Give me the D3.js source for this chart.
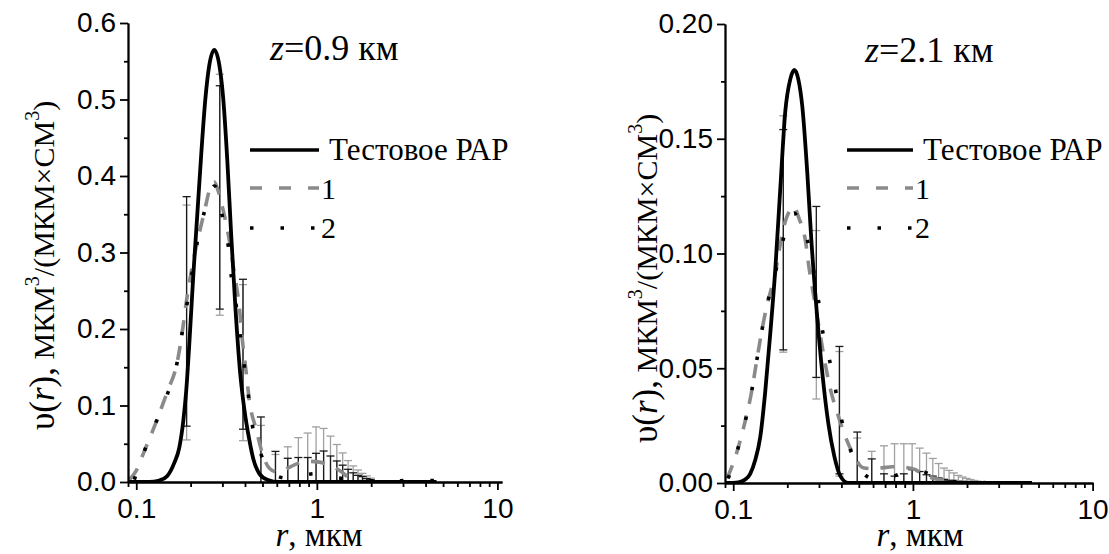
<!DOCTYPE html>
<html>
<head>
<meta charset="utf-8">
<script src="https://cdn.jsdelivr.net/npm/d3@7"></script>
<style>
  body { margin: 0; background: #fff; }
</style>
</head>
<body>
<svg id="chart" width="1109" height="554"></svg>
<script>
// ---- panel A: z = 0.9 km ----
var rTestA = [0.09, 0.118, 0.134, 0.1485, 0.1624, 0.1731, 0.1822, 0.1892, 0.1966, 0.2069, 0.2178, 0.2292, 0.2412, 0.2538, 0.2705, 0.2884, 0.3034, 0.3193, 0.336, 0.3536, 0.377, 0.3967, 0.4227, 0.4449, 0.4801, 0.5318, 0.6197, 4.6];
var vTestA = [0, 0, 0.002, 0.008, 0.025, 0.045, 0.08, 0.12, 0.18, 0.27, 0.35, 0.43, 0.5, 0.545, 0.565, 0.545, 0.5, 0.42, 0.32, 0.23, 0.14, 0.095, 0.055, 0.03, 0.011, 0.003, 0, 0];

var rOneA = [0.0915, 0.1, 0.1107, 0.1291, 0.1485, 0.1687, 0.1798, 0.1892, 0.2017, 0.2178, 0.2381, 0.257, 0.2705, 0.2848, 0.2996, 0.3275, 0.3492, 0.3721, 0.3867, 0.4068, 0.4227, 0.4622, 0.4926, 0.5457, 0.6042, 0.6866, 0.7798, 0.9087, 1.0325, 1.173, 1.367, 1.514, 1.676, 1.954, 3.7];
var vOneA = [0.003, 0.015, 0.04, 0.079, 0.118, 0.157, 0.196, 0.235, 0.275, 0.314, 0.353, 0.385, 0.392, 0.38, 0.36, 0.316, 0.273, 0.229, 0.186, 0.142, 0.107, 0.068, 0.042, 0.018, 0.013, 0.018, 0.024, 0.027, 0.026, 0.022, 0.0135, 0.005, 0.001, 0, 0];

var rTwoA = [0.0975, 0.1107, 0.1291, 0.1504, 0.1687, 0.1798, 0.1917, 0.2043, 0.2178, 0.2381, 0.257, 0.2705, 0.2848, 0.2996, 0.3234, 0.336, 0.3581, 0.377, 0.3967, 0.4173, 0.4393, 0.4926, 0.5597, 0.6776, 0.8, 0.994, 1.203, 1.457, 1.833, 2.522, 3.132, 3.7, 4.477, 5.42];
var vTwoA = [0.003, 0.04, 0.079, 0.118, 0.157, 0.196, 0.235, 0.275, 0.314, 0.353, 0.378, 0.387, 0.378, 0.347, 0.308, 0.269, 0.23, 0.191, 0.152, 0.114, 0.0745, 0.035, 0.012, 0.005, 0.008, 0.011, 0.007, 0.004, 0.002, 0.001, 0.002, 0.001, 0.002, 0];

var rBarsA = [0.19, 0.29, 0.39, 0.49, 0.59, 0.69, 0.79, 0.89, 0.99, 1.09, 1.19, 1.29, 1.39, 1.49, 1.59, 1.69, 1.79, 1.89, 1.99];
var oneHiA = [0.362, 0.533, 0.258, 0.074, 0.036, 0.046, 0.058, 0.064, 0.072, 0.07, 0.06, 0.049, 0.038, 0.028, 0.021, 0.0157, 0.0113, 0.008, 0.005];
var oneLoA = [0.055, 0.218, 0.054, 0, 0, 0, 0, 0, 0, 0, 0, 0, 0, 0, 0, 0, 0, 0, 0];
var twoHiA = [0.373, 0.518, 0.265, 0.085, 0.04, 0.031, 0.032, 0.032, 0.0375, 0.0405, 0.034, 0.0275, 0.022, 0.0166, 0.012, 0.0087, 0.007, 0.0044, 0.003];
var twoLoA = [0.073, 0.226, 0.069, 0, 0, 0, 0, 0, 0, 0, 0, 0, 0, 0, 0, 0, 0, 0, 0];

// ---- panel B: z = 2.1 km ----
var rTestB = [0.09, 0.1066, 0.1166, 0.1243, 0.1326, 0.1414, 0.1508, 0.1607, 0.1714, 0.1827, 0.1949, 0.2078, 0.2187, 0.2302, 0.2424, 0.2584, 0.272, 0.29, 0.3132, 0.3382, 0.3653, 0.3947, 0.4372, 4.6];
var vTestB = [0, 0.0003, 0.0015, 0.004, 0.01, 0.02, 0.04, 0.065, 0.093, 0.128, 0.162, 0.176, 0.18, 0.176, 0.164, 0.135, 0.106, 0.077, 0.048, 0.026, 0.0116, 0.003, 0, 0];

var rOneB = [0.0926, 0.1053, 0.1166, 0.126, 0.1343, 0.1432, 0.1547, 0.1714, 0.1827, 0.1949, 0.2078, 0.2159, 0.2332, 0.2518, 0.2651, 0.2827, 0.3014, 0.3214, 0.3471, 0.3797, 0.4207, 0.4722, 0.5233, 0.595, 0.6764, 0.7689, 0.9083, 1.0325, 1.1294, 1.284, 1.4597, 1.8392, 2.703, 4.6];
var vOneB = [0.002, 0.014, 0.027, 0.039, 0.052, 0.065, 0.078, 0.0915, 0.104, 0.114, 0.119, 0.1205, 0.115, 0.106, 0.093, 0.08, 0.067, 0.054, 0.041, 0.0305, 0.0203, 0.0116, 0.0068, 0.0062, 0.0066, 0.0071, 0.0068, 0.0058, 0.004, 0.0022, 0.0012, 0.0005, 0, 0];

var rTwoB = [0.0938, 0.1053, 0.1166, 0.126, 0.1343, 0.1432, 0.1547, 0.1714, 0.1875, 0.2025, 0.2187, 0.2362, 0.2584, 0.2791, 0.2975, 0.3132, 0.3426, 0.37, 0.3997, 0.4485, 0.5099, 0.595, 0.7027, 0.8518, 0.9936, 1.1294, 1.284, 1.518, 1.8392, 3.494, 4.6];
var vTwoB = [0.002, 0.014, 0.027, 0.039, 0.052, 0.065, 0.078, 0.0915, 0.1045, 0.114, 0.1176, 0.113, 0.106, 0.093, 0.08, 0.067, 0.054, 0.041, 0.028, 0.0145, 0.006, 0.002, 0.002, 0.004, 0.005, 0.005, 0.003, 0.001, 0.0005, 0, 0];

var rBarsB = [0.19, 0.29, 0.39, 0.49, 0.59, 0.69, 0.79, 0.89, 0.99, 1.09, 1.19, 1.29, 1.39, 1.49, 1.59, 1.69, 1.79, 1.89, 1.99, 2.09, 2.19, 2.29];
var oneHiB = [0.16, 0.11, 0.0573, 0.0196, 0.0138, 0.0162, 0.0171, 0.0171, 0.0171, 0.0152, 0.013, 0.0107, 0.0085, 0.0065, 0.0055, 0.0044, 0.0033, 0.0026, 0.002, 0.0015, 0.0011, 0.0008];
var oneLoB = [0.057, 0.0366, 0.003, 0, 0, 0, 0, 0, 0, 0, 0, 0, 0, 0, 0, 0, 0, 0, 0, 0, 0, 0];
var twoHiB = [0.154, 0.1205, 0.0595, 0.0222, 0.0105, 0.004, 0.003, 0.004, 0.0058, 0.005, 0.0036, 0.003, 0.0022, 0.0016, 0.0012, 0.001, 0.0008, 0.0006, 0.0005, 0.0004, 0.0003, 0.0002];
var twoLoB = [0.058, 0.046, 0.004, 0, 0, 0, 0, 0, 0, 0, 0, 0, 0, 0, 0, 0, 0, 0, 0, 0, 0, 0];

// ---- shared labels ----
var xTickVals = [0.1, 1, 10];
var legendNames = ["Тестовое РАР", "1", "2"];

//Colors
var colorTest = "#000";
var colorOne = "#8a8a8a";
var colorOneBar = "#a0a0a0";
var colorTwo = "#000";
var colorTwoBar = "#1a1a1a";

var serif = "'Liberation Serif', 'DejaVu Serif', serif";
var sans = "'Liberation Sans', Arial, sans-serif";

var svg = d3.select("#chart");

function zip(rs, vs) {
    return rs.map(function (r, i) { return [r, vs[i]]; });
}

function drawPanel(p) {
    var x = d3.scaleLog().domain(p.xDomain).range([p.left, p.right]);
    var y = d3.scaleLinear().domain(p.yDomain).range([p.bottom, p.top]);

    var clipId = "clip" + p.id;
    svg.append("clipPath").attr("id", clipId)
        .append("rect")
        .attr("x", p.left).attr("y", p.top - 5)
        .attr("width", p.right - p.left).attr("height", p.bottom - p.top + 5);

    var plot = svg.append("g").attr("clip-path", "url(#" + clipId + ")");

    //Error bars: series 1 (gray) then series 2 (black)
    function bars(hi, lo, color) {
        var g = plot.append("g").attr("stroke", color).attr("stroke-width", 1.3).attr("fill", "none");
        p.rBars.forEach(function (r, i) {
            var cx = x(r);
            g.append("line").attr("x1", cx).attr("x2", cx).attr("y1", y(lo[i])).attr("y2", y(hi[i]));
            g.append("line").attr("x1", cx - 4).attr("x2", cx + 4).attr("y1", y(hi[i])).attr("y2", y(hi[i]));
            if (lo[i] > 0) {
                g.append("line").attr("x1", cx - 4).attr("x2", cx + 4).attr("y1", y(lo[i])).attr("y2", y(lo[i]));
            }
        });
    }
    bars(p.oneHi, p.oneLo, colorOneBar);
    bars(p.twoHi, p.twoLo, colorTwoBar);

    var line = d3.line()
        .x(function (d) { return x(d[0]); })
        .y(function (d) { return y(d[1]); })
        .curve(d3.curveMonotoneX);

    plot.append("path").datum(zip(p.rOne, p.vOne))
        .attr("d", line).attr("fill", "none")
        .attr("stroke", colorOne).attr("stroke-width", 3.6)
        .attr("stroke-dasharray", "14,12");

    plot.append("path").datum(zip(p.rTwo, p.vTwo))
        .attr("d", line).attr("fill", "none")
        .attr("stroke", colorTwo).attr("stroke-width", 3.6)
        .attr("stroke-dasharray", "3.5,27");

    plot.append("path").datum(zip(p.rTest, p.vTest))
        .attr("d", line).attr("fill", "none")
        .attr("stroke", colorTest).attr("stroke-width", 3.8);

    //Axes
    var yAxis = svg.append("g").attr("transform", "translate(" + p.left + ",0)")
        .call(d3.axisLeft(y).tickValues(p.yMajor).tickSize(8).tickSizeOuter(0).tickPadding(4)
            .tickFormat(d3.format(p.yFormat)));
    svg.append("g").attr("transform", "translate(" + p.left + ",0)")
        .call(d3.axisLeft(y).tickValues(p.yMinor).tickSize(4).tickSizeOuter(0).tickFormat(""));

    var minorX = [];
    [0.01, 0.1, 1].forEach(function (dec) {
        for (var k = 2; k <= 9; k++) {
            var v = dec * k;
            if (v >= p.xDomain[0] - 1e-9 && v <= p.xDomain[1]) minorX.push(v);
        }
    });
    svg.append("g").attr("transform", "translate(0," + p.bottom + ")")
        .call(d3.axisBottom(x).tickValues(minorX).tickSize(5).tickSizeOuter(0).tickFormat(""));
    var xAxis = svg.append("g").attr("transform", "translate(0," + p.bottom + ")")
        .call(d3.axisBottom(x).tickValues(xTickVals).tickSize(8).tickSizeOuter(0).tickPadding(8)
            .tickFormat(function (d) { return String(d); }));

    svg.selectAll(".domain, .tick line").attr("stroke", "#000").attr("stroke-width", 1.8);
    [yAxis, xAxis].forEach(function (a) {
        a.selectAll("text").attr("font-family", sans).attr("font-size", 28).attr("fill", "#000");
    });

    //Axis titles
    var xt = svg.append("text").attr("x", p.xTitleX).attr("y", 546)
        .attr("text-anchor", "middle").attr("font-family", serif).attr("font-size", 33);
    xt.append("tspan").attr("font-style", "italic").text("r");
    xt.append("tspan").text(", мкм");

    //Y title reads bottom to top, starting at yTitleY
    var yt = svg.append("text")
        .attr("transform", "translate(" + p.yTitleX + "," + p.yTitleY + ") rotate(-90)")
        .attr("text-anchor", "start").attr("font-family", serif);
    yt.append("tspan").attr("font-size", 35).text("υ(");
    yt.append("tspan").attr("font-size", 35).attr("font-style", "italic").text("r");
    yt.append("tspan").attr("font-size", 35).text("),");
    yt.append("tspan").attr("font-size", 30).text(" МКМ");
    yt.append("tspan").attr("font-size", 20).attr("dy", -15).text("3");
    yt.append("tspan").attr("font-size", 30).attr("dy", 15).text("/(МКМ×СМ");
    yt.append("tspan").attr("font-size", 20).attr("dy", -15).text("3");
    yt.append("tspan").attr("font-size", 30).attr("dy", 15).text(")");

    //Title
    var tt = svg.append("text").attr("x", p.titleX).attr("y", p.titleY)
        .attr("font-family", serif).attr("font-size", 36);
    tt.append("tspan").attr("font-style", "italic").text("z");
    tt.append("tspan").text("=" + p.title + " км");

    //Legend
    var lg = [
        { stroke: colorTest, dash: null, y: 150, tx: p.legX1 + 10, ty: 160, fs: 31 },
        { stroke: colorOne, dash: "12,17", y: 188, tx: p.legX1 + 2, ty: 199, fs: 30 },
        { stroke: colorTwo, dash: "3.5,27", y: 228, tx: p.legX1 + 2, ty: 238, fs: 30 }
    ];
    lg.forEach(function (e, i) {
        var l = svg.append("line").attr("x1", p.legX0).attr("x2", p.legX1)
            .attr("y1", e.y).attr("y2", e.y)
            .attr("stroke", e.stroke).attr("stroke-width", 3.6);
        if (e.dash) l.attr("stroke-dasharray", e.dash);
        svg.append("text").attr("x", e.tx).attr("y", e.ty)
            .attr("font-family", serif).attr("font-size", e.fs).text(legendNames[i]);
    });
}

drawPanel({
    id: "A", left: 128, right: 502, top: 23, bottom: 482,
    xDomain: [0.09, 10.6], yDomain: [0, 0.6],
    yMajor: [0, 0.1, 0.2, 0.3, 0.4, 0.5, 0.6], yMinor: [0.05, 0.15, 0.25, 0.35, 0.45, 0.55], yFormat: ".1f",
    rTest: rTestA, vTest: vTestA, rOne: rOneA, vOne: vOneA, rTwo: rTwoA, vTwo: vTwoA,
    rBars: rBarsA, oneHi: oneHiA, oneLo: oneLoA, twoHi: twoHiA, twoLo: twoLoA,
    title: "0.9", titleX: 270, titleY: 60,
    legX0: 250, legX1: 319,
    xTitleX: 319, yTitleX: 54, yTitleY: 430
});

drawPanel({
    id: "B", left: 725, right: 1093, top: 24, bottom: 483,
    xDomain: [0.09, 10.05], yDomain: [0, 0.2],
    yMajor: [0, 0.05, 0.1, 0.15, 0.2], yMinor: [0.025, 0.075, 0.125, 0.175], yFormat: ".2f",
    rTest: rTestB, vTest: vTestB, rOne: rOneB, vOne: vOneB, rTwo: rTwoB, vTwo: vTwoB,
    rBars: rBarsB, oneHi: oneHiB, oneLo: oneLoB, twoHi: twoHiB, twoLo: twoLoB,
    title: "2.1", titleX: 865, titleY: 62,
    legX0: 847, legX1: 913,
    xTitleX: 920, yTitleX: 657, yTitleY: 443
});
</script>
</body>
</html>
